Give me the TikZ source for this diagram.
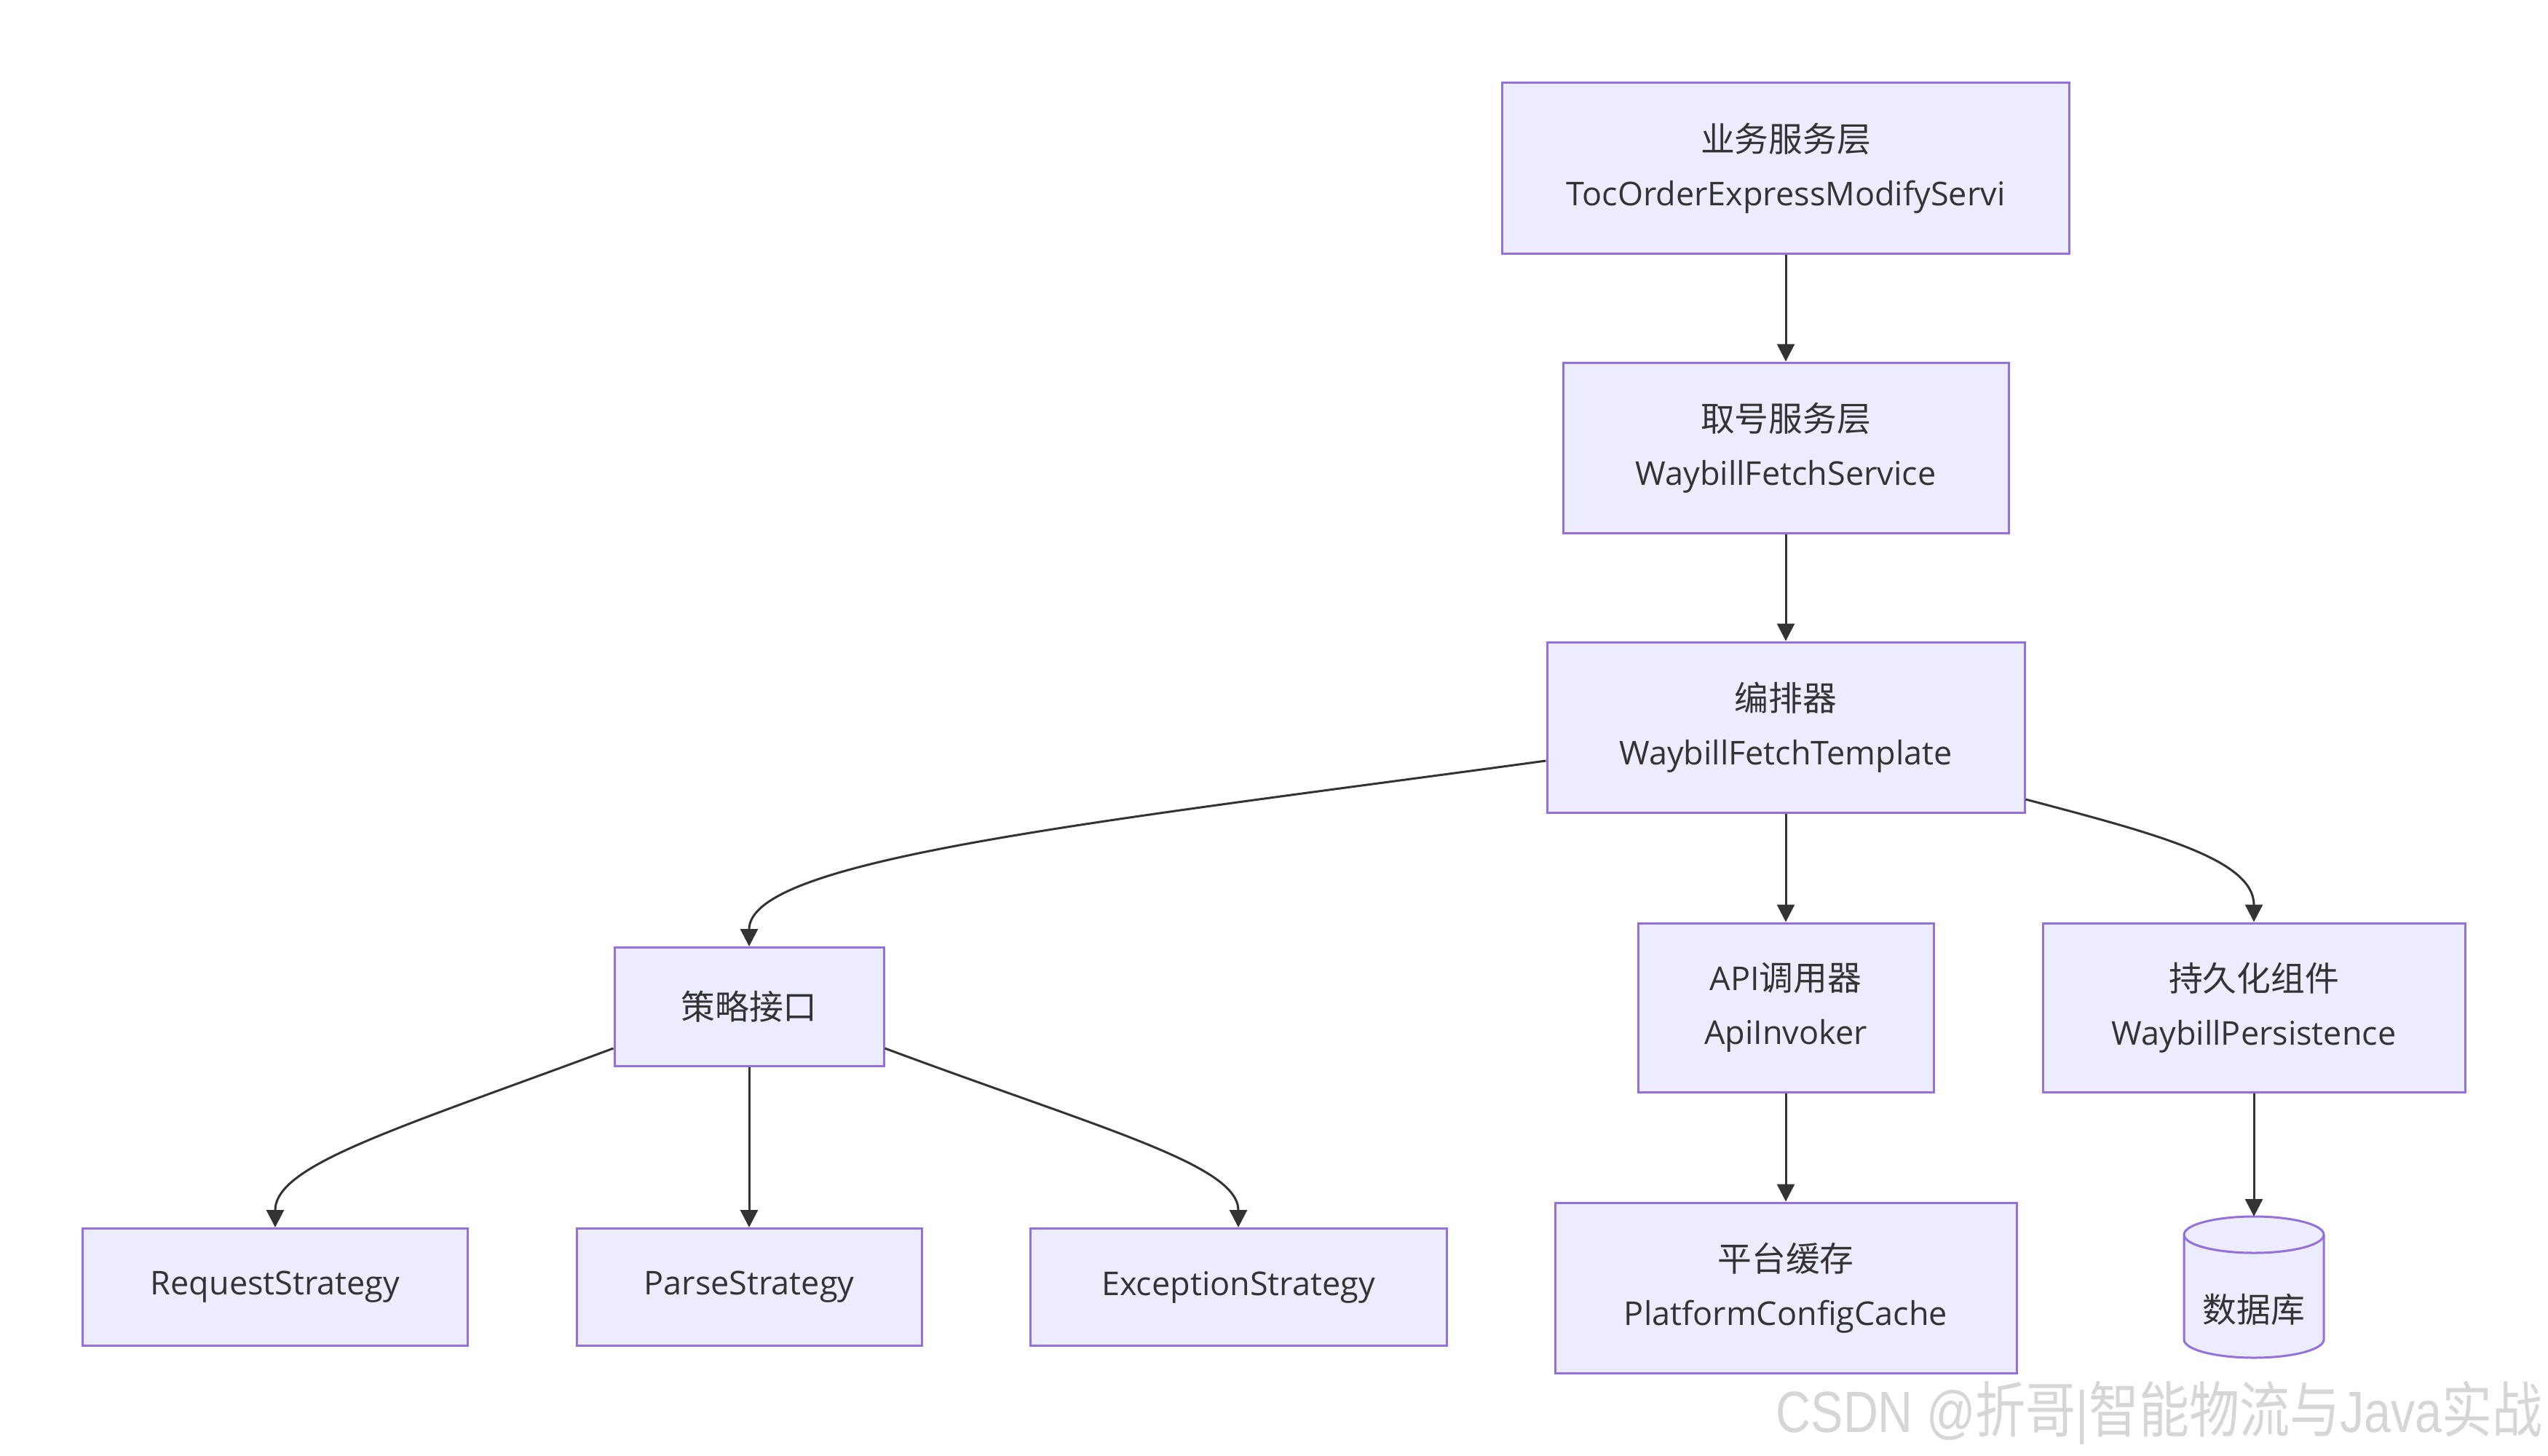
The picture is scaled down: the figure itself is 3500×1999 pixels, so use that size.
\documentclass[tikz,border=0pt]{standalone}
\usepackage{fontspec}
\setmainfont{Open Sans}
\newfontfamily\cjk{Noto Sans CJK SC}[Scale=1.04]
\newfontfamily\wmlatin{Liberation Sans}
\usetikzlibrary{arrows.meta,calc}
\definecolor{bg}{HTML}{ECECFF}
\definecolor{bd}{HTML}{9370DB}
\definecolor{ln}{HTML}{333333}
\definecolor{wm}{HTML}{D6D6D6}
\begin{document}
\begin{tikzpicture}[x=1pt,y=-1pt,
  box/.style={draw=bd, fill=bg, line width=3pt, text=ln, align=center,
    inner sep=0pt, font=\fontsize{45}{74}\selectfont,
    execute at begin node={\vspace*{8pt}}},
  link/.style={draw=ln, line width=3pt, -{Triangle[length=24pt,width=24pt]}}]
\useasboundingbox (0,0) rectangle (3500,1999);
\fill[white] (0,0) rectangle (3500,1999);

% service layers
\node[box, minimum width=779, minimum height=234] (A) at (2453,231)
  {{\cjk 业务服务层}\\TocOrderExpressModifyServi};
\node[box, minimum width=612, minimum height=234] (B) at (2453,615)
  {{\cjk 取号服务层}\\WaybillFetchService};
\node[box, minimum width=656, minimum height=234] (C) at (2453,999)
  {{\cjk 编排器}\\WaybillFetchTemplate};

% components
\node[box, minimum width=370, minimum height=163] (D) at (1029,1383)
  {{\cjk 策略接口}};
\node[box, minimum width=406, minimum height=232] (E) at (2453,1384)
  {API{\cjk 调用器}\\ApiInvoker};
\node[box, minimum width=580, minimum height=232] (F) at (3096,1384)
  {{\cjk 持久化组件}\\WaybillPersistence};

% strategies, cache
\node[box, minimum width=529, minimum height=161] (G) at (378,1768) {RequestStrategy};
\node[box, minimum width=474, minimum height=161] (H) at (1029,1768) {ParseStrategy};
\node[box, minimum width=572, minimum height=161] (I) at (1701,1768) {ExceptionStrategy};
\node[box, minimum width=634, minimum height=234] (J) at (2453,1769)
  {{\cjk 平台缓存}\\PlatformConfigCache};

% database cylinder
\path[fill=bg, draw=bd, line width=3pt]
  (3000,1696) -- (3000,1840)
  arc[start angle=180, end angle=360, x radius=96pt, y radius=25pt]
  -- (3192,1696)
  arc[start angle=0, end angle=180, x radius=96pt, y radius=25pt] -- cycle;
\draw[bd, line width=3pt] (3000,1696)
  arc[start angle=180, end angle=360, x radius=96pt, y radius=25pt];
\node[text=ln, inner sep=0pt, font=\fontsize{45}{74}\selectfont\cjk] (K) at (3096,1799) {数据库};
\coordinate (Ktop) at (3096,1671);

% connectors
\draw[link] (A.south) -- (B.north);
\draw[link] (B.south) -- (C.north);
\draw[link] ($(C.west)+(0,46)$) .. controls (1500,1130) and (1029,1180) .. (D.north);
\draw[link] (C.south) -- (E.north);
\draw[link] ($(C.east)+(0,99)$) .. controls (2960,1145) and (3096,1180) .. (F.north);
\draw[link] ($(D.west)+(0,57)$) .. controls (544,1551) and (378,1600) .. (G.north);
\draw[link] (D.south) -- (H.north);
\draw[link] ($(D.east)+(0,57)$) .. controls (1514,1551) and (1701,1600) .. (I.north);
\draw[link] (E.south) -- (J.north);
\draw[link] (F.south) -- (Ktop);

% watermark
\node[anchor=east, inner sep=0pt, text=wm, font=\fontsize{80}{80}\selectfont] (W) at (3493,1941)
  {\scalebox{0.83}[1]{\wmlatin CSDN @{\cjk 折哥}|{\cjk 智能物流与}Java{\cjk 实战}}};
\end{tikzpicture}
\end{document}
